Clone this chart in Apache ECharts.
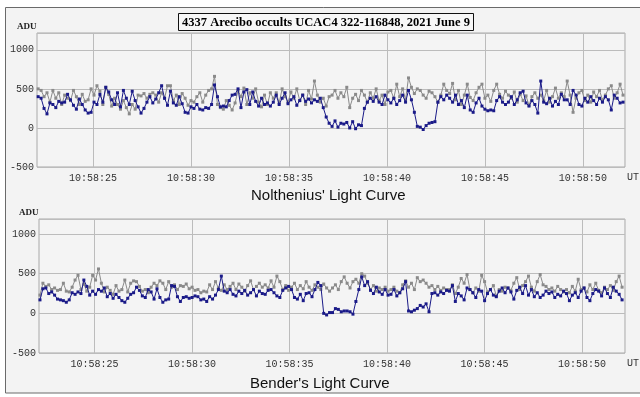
<!DOCTYPE html>
<html><head><meta charset="utf-8">
<script src="https://cdn.jsdelivr.net/npm/echarts@6/dist/echarts.min.js"></script>
<style>html,body{margin:0;padding:0;background:#fff}#c{width:640px;height:397px}</style>
</head><body><div id="c"></div>
<script>
// sampling grid (seconds after 10:58:00 UT)
const t0 = 22.2, dt = 0.15;
const xTickValues = [25, 30, 35, 40, 45, 50];
const yTickValues = [-500, 0, 500, 1000];
const titleText = '4337 Arecibo occults UCAC4 322-116848, 2021 June 9';
const topCaption = "Nolthenius' Light Curve";
const bottomCaption = "Bender's Light Curve";

// Nolthenius – target (blue)
const nolBlue = [
 400,380,250,180,320,300,260,340,320,330,430,360,290,240,370,300,230,190,200,330,
 300,430,330,520,460,360,300,450,270,480,380,300,470,350,270,190,250,330,400,320,
 370,450,540,380,290,470,320,290,400,310,200,190,270,250,300,240,230,260,250,300,
 550,400,270,280,270,350,420,430,500,260,460,490,300,460,340,280,380,300,320,280,
 330,420,300,380,450,310,360,400,290,350,420,340,370,320,360,340,380,260,140,60,
 20,90,10,60,50,70,0,80,-10,40,30,250,330,380,340,400,330,300,420,360,
 320,380,300,350,420,330,480,360,200,20,10,-20,30,60,70,80,330,400,360,420,
 380,330,420,300,350,260,420,230,200,320,380,280,240,220,230,220,350,400,330,300,
 330,400,300,360,450,470,320,280,350,300,190,600,330,310,380,280,340,300,430,360,
 360,300,480,420,300,280,380,330,400,350,300,380,330,400,360,230,420,380,320,330
];
// Nolthenius – comparison (grey)
const nolGray = [
 500,480,400,450,330,480,380,450,300,420,380,350,480,400,300,430,340,360,500,420,
 540,470,300,520,430,280,380,300,240,350,260,180,300,240,420,410,440,380,430,450,
 420,330,450,380,540,540,350,420,300,440,380,290,350,330,400,450,330,420,480,500,
 660,300,260,240,350,290,230,320,480,400,510,300,450,380,500,330,270,420,300,450,
 380,450,320,500,400,330,460,380,500,350,420,300,480,370,600,420,330,380,280,400,
 420,480,380,450,400,520,260,380,430,350,480,420,330,450,380,500,350,420,300,460,
 480,380,560,400,500,360,640,520,440,500,480,420,380,470,450,400,330,420,560,480,
 440,570,360,480,300,420,560,390,350,450,520,560,380,420,340,480,560,430,380,470,
 420,380,460,330,430,350,410,290,400,450,380,420,350,480,330,400,510,380,450,400,
 600,420,200,380,450,480,350,420,330,460,400,480,360,420,500,540,380,450,560,420
];
// Bender – target (blue)
const benBlue = [
 170,310,320,250,270,230,180,170,160,140,170,260,240,270,250,420,340,230,280,240,
 300,280,320,210,250,190,240,200,160,140,190,240,260,330,290,220,200,300,270,180,
 310,200,140,170,180,350,340,210,150,200,210,190,200,220,210,170,180,150,210,180,
 230,300,470,280,260,300,240,220,280,250,290,230,260,300,220,280,250,240,290,300,
 260,220,200,290,320,340,300,200,180,240,160,250,260,210,300,390,350,0,-20,10,
 10,60,50,20,30,30,20,-10,150,300,460,350,400,290,250,330,270,240,300,230,
 240,300,220,260,310,400,30,20,40,60,100,80,120,20,250,260,230,270,250,290,
 280,350,150,250,220,170,320,300,260,200,300,280,160,250,300,230,210,280,320,260,
 320,270,180,290,330,250,350,230,300,210,260,200,230,280,250,270,200,240,220,280,
 250,160,230,260,200,280,320,200,160,250,300,280,220,320,250,200,330,280,240,170
];
// Bender – comparison (grey)
const benGray = [
 230,380,340,360,300,320,290,300,380,280,270,330,420,480,300,370,280,330,480,420,
 560,380,270,330,290,240,350,280,300,420,270,380,410,400,340,280,300,260,330,380,
 350,410,380,300,400,330,360,300,350,340,370,310,330,290,300,260,280,270,360,300,
 400,320,290,360,300,340,380,300,370,330,280,350,410,300,340,380,330,360,320,410,
 330,470,400,300,350,290,330,380,300,350,310,400,330,290,360,330,300,370,320,280,
 320,360,300,400,460,380,320,400,430,380,500,470,380,300,350,280,320,300,330,280,
 300,330,280,260,360,410,330,380,300,450,400,420,380,330,350,300,340,290,320,300,
 300,360,250,330,440,380,490,300,260,320,280,480,400,270,300,350,220,300,280,330,
 320,290,380,450,300,350,400,470,330,280,400,490,360,340,300,320,280,340,300,270,
 300,260,340,280,430,300,320,270,360,300,380,290,260,330,300,350,290,400,470,330
];

const pairs = arr => arr.map((v, i) => [+(t0 + i * dt).toFixed(2), v]);

const monoFont = '"Liberation Mono", "DejaVu Sans Mono", monospace';
const BLUE = '#1a1a88', GREY = '#8a8a8a', GRID = '#bcbcbc';

function xAxisCfg(idx, min, max) {
  return {
    type: 'value', gridIndex: idx, min: min, max: max,
    name: 'UT', nameLocation: 'end', nameGap: 2,
    nameTextStyle: { fontFamily: monoFont, fontSize: 10, color: '#333', verticalAlign: 'top', padding: [5, 0, 0, 0] },
    axisLine: { show: false, onZero: false },
    axisTick: { show: false, customValues: xTickValues },
    axisLabel: { customValues: xTickValues, fontFamily: monoFont, fontSize: 10, color: '#333', margin: 6,
      formatter: v => '10:58:' + v },
    splitLine: { show: true, lineStyle: { color: GRID, width: 1 } }
  };
}
function yAxisCfg(idx, max) {
  return {
    type: 'value', gridIndex: idx, min: -500, max: max, interval: 500,
    axisLine: { show: false }, axisTick: { show: false },
    axisLabel: { fontFamily: monoFont, fontSize: 10, color: '#333', margin: 3,
      formatter: v => (yTickValues.indexOf(v) >= 0 ? String(v) : '') },
    splitLine: { show: true, lineStyle: { color: GRID, width: 1 } }
  };
}
function seriesCfg(name, data, color, xi, z) {
  return {
    name: name, type: 'line', xAxisIndex: xi, yAxisIndex: xi, data: pairs(data),
    symbol: 'rect', symbolSize: 3, showSymbol: true, z: z,
    lineStyle: { color: color, width: 1 }, itemStyle: { color: color },
    animation: false
  };
}

const chart = echarts.init(document.getElementById('c'), null, { renderer: 'canvas' });
chart.setOption({
  backgroundColor: '#ffffff',
  animation: false,
  graphic: [
    { type: 'rect', z: -100, silent: true, shape: { x: 5.5, y: 7.5, width: 700, height: 385.5 },
      style: { fill: '#f3f3f3', stroke: '#6a6a6a', lineWidth: 1 } },
    { type: 'text', left: 17, top: 22, style: { text: 'ADU', font: 'bold 9px "Liberation Serif", serif', fill: '#222' } },
    { type: 'text', left: 19, top: 208, style: { text: 'ADU', font: 'bold 9px "Liberation Serif", serif', fill: '#222' } }
  ],
  title: [
    { text: titleText, left: 178, top: 13, padding: [3, 4, 2, 4],
      backgroundColor: '#f7f7f7', borderColor: '#111', borderWidth: 1,
      textStyle: { fontFamily: '"Liberation Serif", serif', fontWeight: 'bold', fontSize: 12.5, color: '#000' } },
    { text: topCaption, left: 251, top: 188, padding: 0,
      textStyle: { fontFamily: '"Liberation Sans", Arial, sans-serif', fontWeight: 'normal', fontSize: 15, color: '#111' } },
    { text: bottomCaption, left: 250, top: 376, padding: 0,
      textStyle: { fontFamily: '"Liberation Sans", Arial, sans-serif', fontWeight: 'normal', fontSize: 15, color: '#111' } }
  ],
  grid: [
    { left: 37, top: 33, width: 591, height: 134, show: true, backgroundColor: '#f4f4f4', borderColor: '#a8a8a8', borderWidth: 1 },
    { left: 39, top: 219, width: 591, height: 134, show: true, backgroundColor: '#f4f4f4', borderColor: '#a8a8a8', borderWidth: 1 }
  ],
  xAxis: [ xAxisCfg(0, 22.14, 52.15), xAxisCfg(1, 22.15, 52.2) ],
  yAxis: [ yAxisCfg(0, 1215), yAxisCfg(1, 1190) ],
  series: [
    seriesCfg('Nolthenius comparison', nolGray, GREY, 0, 2),
    seriesCfg('Nolthenius target', nolBlue, BLUE, 0, 3),
    seriesCfg('Bender comparison', benGray, GREY, 1, 2),
    seriesCfg('Bender target', benBlue, BLUE, 1, 3)
  ]
});
</script></body></html>
